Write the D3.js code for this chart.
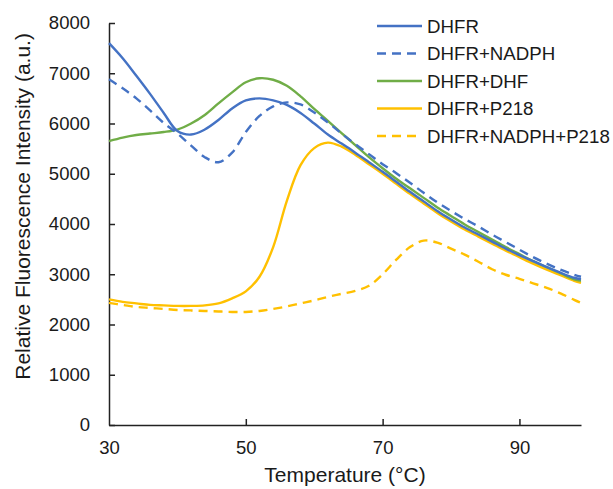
<html>

<head>
    <meta charset="utf-8" />
    <script src="https://cdn.jsdelivr.net/npm/d3@7"></script>
    <style>
        body { margin: 0; background: #fff; }
        text { font-family: "Liberation Sans", Arial, sans-serif; fill: #1a1a1a; }
    </style>
</head>

<body>
    <script>
        // temperatures (°C) shared by all series
        var temps = [30, 32, 34, 36, 38, 40, 42, 44, 46, 48, 50, 52, 54, 56, 58, 60, 62, 64, 66, 68,
            70, 72, 74, 76, 78, 80, 82, 84, 86, 88, 90, 92, 94, 96, 98, 99];

        var dhfr = [7600, 7300, 6950, 6590, 6210, 5850, 5780, 5880, 6070, 6300, 6460, 6500, 6460, 6370, 6210, 6000, 5780, 5600, 5420, 5230,
            5040, 4840, 4640, 4450, 4260, 4090, 3930, 3790, 3650, 3510, 3380, 3260, 3140, 3030, 2930, 2900];
        var dhfr_nadph = [6880, 6700, 6500, 6260, 6010, 5800, 5560, 5330, 5230, 5420, 5830, 6150, 6340, 6420, 6380, 6220, 6020, 5800, 5590, 5390,
            5190, 5010, 4820, 4620, 4430, 4260, 4100, 3950, 3790, 3640, 3490, 3340, 3210, 3090, 2990, 2950];
        var dhfr_dhf = [5650, 5720, 5770, 5800, 5830, 5880, 6000, 6170, 6400, 6620, 6820, 6900, 6870, 6750, 6540, 6290, 6050, 5810, 5570, 5330,
            5110, 4900, 4710, 4520, 4330, 4160, 3990, 3840, 3690, 3540, 3400, 3260, 3140, 3020, 2900, 2870];
        var dhfr_p218 = [2500, 2450, 2420, 2390, 2380, 2370, 2370, 2380, 2420, 2520, 2660, 2950, 3540, 4460, 5170, 5510, 5620, 5540, 5380, 5190,
            5000, 4800, 4600, 4410, 4220, 4050, 3890, 3750, 3610, 3470, 3340, 3210, 3090, 2980, 2870, 2830];
        var dhfr_nadph_p218 = [2430, 2390, 2350, 2330, 2310, 2290, 2280, 2270, 2260, 2250, 2250, 2270, 2310, 2360, 2420, 2480, 2550, 2610, 2670, 2770,
            3000, 3290, 3540, 3670, 3630, 3510, 3390, 3250, 3100, 2990, 2910, 2820, 2730, 2620, 2490, 2430];

        var series_names = ['DHFR', 'DHFR+NADPH', 'DHFR+DHF', 'DHFR+P218', 'DHFR+NADPH+P218'];
        var series_values = [dhfr, dhfr_nadph, dhfr_dhf, dhfr_p218, dhfr_nadph_p218];
        var series_colors = ['#4472c4', '#4472c4', '#70ad47', '#ffc000', '#ffc000'];
        var series_dashed = [false, true, false, false, true];

        var x_ticks = [30, 50, 70, 90];
        var y_ticks = [0, 1000, 2000, 3000, 4000, 5000, 6000, 7000, 8000];

        var width = 613;
        var height = 489;
        var paddings = {
            top: 23,
            right: 32,
            bottom: 64,
            left: 109
        };

        var svg = d3.select('body')
            .append('svg')
            .attr('width', width)
            .attr('height', height);

        var x = d3.scaleLinear()
            .domain([30, 99])
            .range([paddings.left, width - paddings.right]);
        var y = d3.scaleLinear()
            .domain([0, 8000])
            .range([height - paddings.bottom, paddings.top]);

        // axes, ticks pointing inward like the Excel original
        var x_axis = svg.append('g')
            .attr('transform', 'translate(0,' + (height - paddings.bottom) + ')')
            .call(d3.axisBottom(x).tickValues(x_ticks).tickFormat(d3.format('d'))
                .tickSizeInner(-6).tickSizeOuter(0).tickPadding(16));
        var y_axis = svg.append('g')
            .attr('transform', 'translate(' + paddings.left + ',0)')
            .call(d3.axisLeft(y).tickValues(y_ticks).tickFormat(d3.format('d'))
                .tickSizeInner(-6).tickSizeOuter(0).tickPadding(19));

        svg.selectAll('.domain, .tick line')
            .attr('stroke', '#222')
            .attr('stroke-width', 1.5);
        svg.selectAll('.tick text')
            .attr('font-size', 18.5)
            .attr('fill', '#1a1a1a');
        x_axis.selectAll('.tick')
            .filter(function (d) { return d === 30; })
            .select('line')
            .remove();

        svg.append('text')
            .attr('x', x(64.5))
            .attr('y', 482)
            .attr('text-anchor', 'middle')
            .attr('font-size', 21)
            .text('Temperature (°C)');
        svg.append('text')
            .attr('transform', 'translate(30,' + y(4350) + ') rotate(-90)')
            .attr('text-anchor', 'middle')
            .attr('font-size', 21)
            .text('Relative Fluorescence Intensity (a.u.)');

        var line = d3.line()
            .curve(d3.curveCatmullRom.alpha(0.5))
            .x(function (d, i) { return x(temps[i]); })
            .y(function (d) { return y(d); });

        // draw dashed blue last in the cluster order seen in the figure
        var draw_order = [4, 3, 2, 0, 1];
        svg.selectAll('path.series')
            .data(draw_order)
            .enter()
            .append('path')
            .attr('class', 'series')
            .attr('fill', 'none')
            .attr('stroke', function (k) { return series_colors[k]; })
            .attr('stroke-width', 2.4)
            .attr('stroke-dasharray', function (k) { return series_dashed[k] ? '9,6' : null; })
            .attr('d', function (k) { return line(series_values[k]); });

        // legend
        var legend = svg.selectAll('g.legend')
            .data(series_names)
            .enter()
            .append('g')
            .attr('class', 'legend')
            .attr('transform', function (d, i) {
                return 'translate(377,' + (26 + i * 27.5) + ')';
            });
        legend.append('line')
            .attr('x1', 0)
            .attr('x2', 45)
            .attr('stroke', function (d, i) { return series_colors[i]; })
            .attr('stroke-width', 2.4)
            .attr('stroke-dasharray', function (d, i) { return series_dashed[i] ? '9,6' : null; });
        legend.append('text')
            .attr('x', 50)
            .attr('dy', '0.35em')
            .attr('font-size', 18.7)
            .text(function (d) { return d; });
    </script>
</body>

</html>
